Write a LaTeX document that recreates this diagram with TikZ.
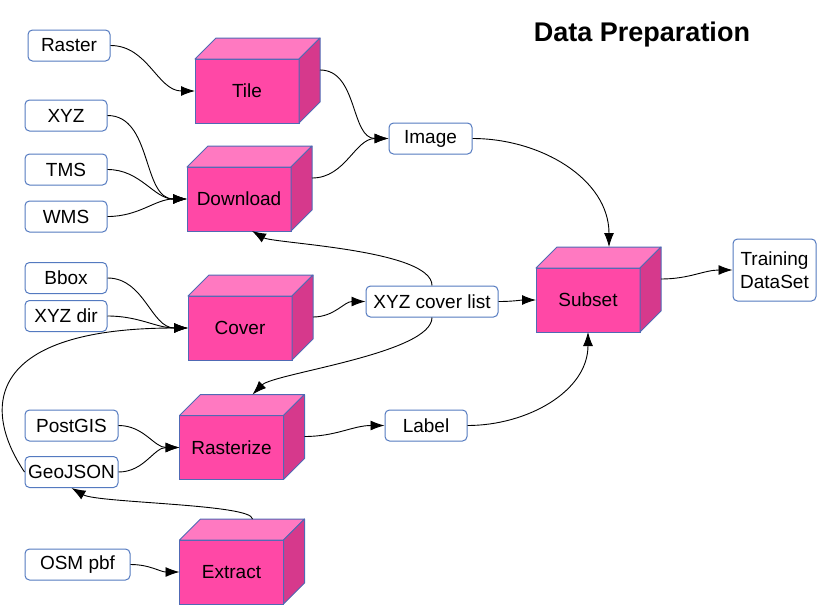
\documentclass[tikz,border=0pt]{standalone}
\usepackage{fontspec}
\setmainfont{Liberation Sans}
\usepackage{xcolor}
\usepackage{tikz}
\usetikzlibrary{arrows.meta}

\definecolor{cubefront}{RGB}{255,72,166}
\definecolor{cubetop}{RGB}{255,121,193}
\definecolor{cubeside}{RGB}{214,57,140}
\definecolor{cubeline}{RGB}{80,105,180}
\definecolor{boxline}{RGB}{84,122,192}

\tikzset{
  box/.style={draw=boxline, fill=white, rounded corners=4.5pt, line width=1pt,
    minimum width=82pt, minimum height=31pt, inner sep=2pt, font=\fontsize{19}{23}\selectfont},
  cube/.style={draw=cubeline, fill=cubefront, line width=1pt, minimum width=104pt,
    minimum height=64pt, outer sep=0pt, font=\fontsize{19}{23}\selectfont},
  cubetopface/.style={draw=cubeline, fill=cubetop, line width=1pt, line join=round},
  cubesideface/.style={draw=cubeline, fill=cubeside, line width=1pt, line join=round},
  flow/.style={-{Latex[length=14pt,width=10pt]}, line width=0.9pt}
}

% front face as a node, top and side drawn behind it
\newcommand{\cubenode}[3]{%
  \node[cube] (#1) at (#2) {#3};
  \filldraw[cubetopface] (#1.north west) -- ++(21pt,21pt) -- ++(104pt,0pt) -- (#1.north east) -- cycle;
  \filldraw[cubesideface] (#1.north east) -- ++(21pt,21pt) -- ++(0pt,-64pt) -- (#1.south east) -- cycle;
  \coordinate (#1-e) at ([shift={(21pt,21pt)}]#1.east);
  \coordinate (#1-n) at ([shift={(21pt,21pt)}]#1.north);
}

\begin{document}
\begin{tikzpicture}[x=1pt,y=-1pt]
\useasboundingbox (0,0) rectangle (833,614);

\node[font=\bfseries\fontsize{27}{30}\selectfont] (title) at (642,35) {Data Preparation};

% inputs
\node[box] (raster) at (69,45.5) {Raster};
\node[box] (xyz) at (66,115.5) {XYZ};
\node[box] (tms) at (66,169.5) {TMS};
\node[box] (wms) at (66,216.5) {WMS};
\node[box] (bbox) at (66,278) {Bbox};
\node[box] (xyzdir) at (66,316) {XYZ dir};
\node[box,minimum width=93pt] (postgis) at (71.5,425.5) {PostGIS};
\node[box,minimum width=93pt] (geojson) at (71.5,472) {GeoJSON};
\node[box,minimum width=105pt] (osm) at (77.5,564.5) {OSM pbf};

% intermediate and output
\node[box,minimum width=83pt] (image) at (430.5,138.5) {Image};
\node[box,minimum width=132pt] (coverlist) at (432,301.5) {XYZ cover list};
\node[box] (label) at (426,425.5) {Label};
\node[box,minimum width=83pt,minimum height=62pt,align=center] (training) at (774.5,270) {Training\\DataSet};

% tools
\cubenode{tile}{247,91}{Tile}
\cubenode{download}{239,199}{Download}
\cubenode{cover}{240,328}{Cover}
\cubenode{rasterize}{231.5,447.5}{Rasterize}
\cubenode{extract}{231.5,572}{Extract}
\cubenode{subset}{588,300}{Subset}

% flows
\draw[flow] (raster.east) to[out=0,in=180] (tile.west);
\foreach \src in {xyz,tms,wms}
  \draw[flow] (\src.east) to[out=0,in=180] (download.west);
\draw[flow] (tile-e) to[out=0,in=180] (image.west);
\draw[flow] (download-e) to[out=0,in=180] (image.west);
\draw[flow] (image.east) to[out=0,in=90] (subset-n);
\foreach \src in {bbox,xyzdir}
  \draw[flow] (\src.east) to[out=0,in=180] (cover.west);
\draw[flow] (geojson.west) .. controls +(-45,-67) and +(-198,0) .. (cover.west);
\draw[flow] ([yshift=-10pt]cover-e) to[out=0,in=180] (coverlist.west);
\draw[flow] (coverlist.east) to[out=0,in=180] (subset.west);
\draw[flow] (coverlist.north) to[out=90,in=-30,out distance=36pt,in distance=25pt] ([xshift=13pt]download.south);
\draw[flow] (coverlist.south) to[out=-90,in=45,out distance=36pt,in distance=30pt] (rasterize-n);
\foreach \src in {postgis,geojson}
  \draw[flow] (\src.east) to[out=0,in=180] (rasterize.west);
\draw[flow] ([yshift=-10pt]rasterize-e) to[out=0,in=180] (label.west);
\draw[flow] (label.east) to[out=0,in=-90] (subset.south);
\draw[flow] (extract-n) to[out=90,in=-30,out distance=15pt,in distance=30pt] (geojson.south);
\draw[flow] (osm.east) to[out=0,in=180] (extract.west);
\draw[flow] (subset-e) to[out=0,in=180] (training.west);
\end{tikzpicture}
\end{document}
